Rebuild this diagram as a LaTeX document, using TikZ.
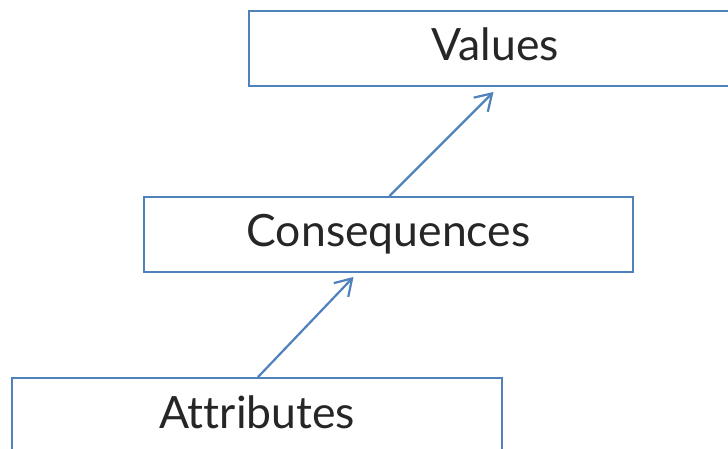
\documentclass[tikz,border=0pt]{standalone}
\usepackage{fontspec}
\setmainfont{Lato}[Ligatures=NoCommon]
\usetikzlibrary{arrows.meta,calc}
\definecolor{boxblue}{HTML}{4F81BD}
\definecolor{txt}{HTML}{262626}
\tikzset{
  lbox/.style={draw=boxblue, line width=1.9pt, fill=white, minimum width=489pt, minimum height=75pt,
    inner sep=0pt, text height=25pt, text depth=0pt, text=txt, font=\fontsize{44.5}{44.5}\selectfont},
  arr/.style={draw=boxblue, line width=2.2pt, -{Straight Barb[length=16pt,width=20pt,line width=2.2pt]}}
}
\begin{document}
\begin{tikzpicture}[x=1pt,y=-1pt]
\useasboundingbox (0,0) rectangle (728,449);
\node[lbox, minimum width=493pt] (v) at (495.5,48.5) {Values};
\node[lbox] (c) at (388.5,234.5) {Consequences};
\node[lbox, minimum width=490pt] (a) at (257,415.5) {Attributes};
\coordinate (vt) at ($(v.south)+(-2,5)$);
\coordinate (ct) at ($(c.south)+(-35,4)$);
\draw[arr] ($(c.north)+(1,0)$) -- (vt);
\draw[arr] ($(a.north)+(1,0)$) -- (ct);
\end{tikzpicture}
\end{document}
